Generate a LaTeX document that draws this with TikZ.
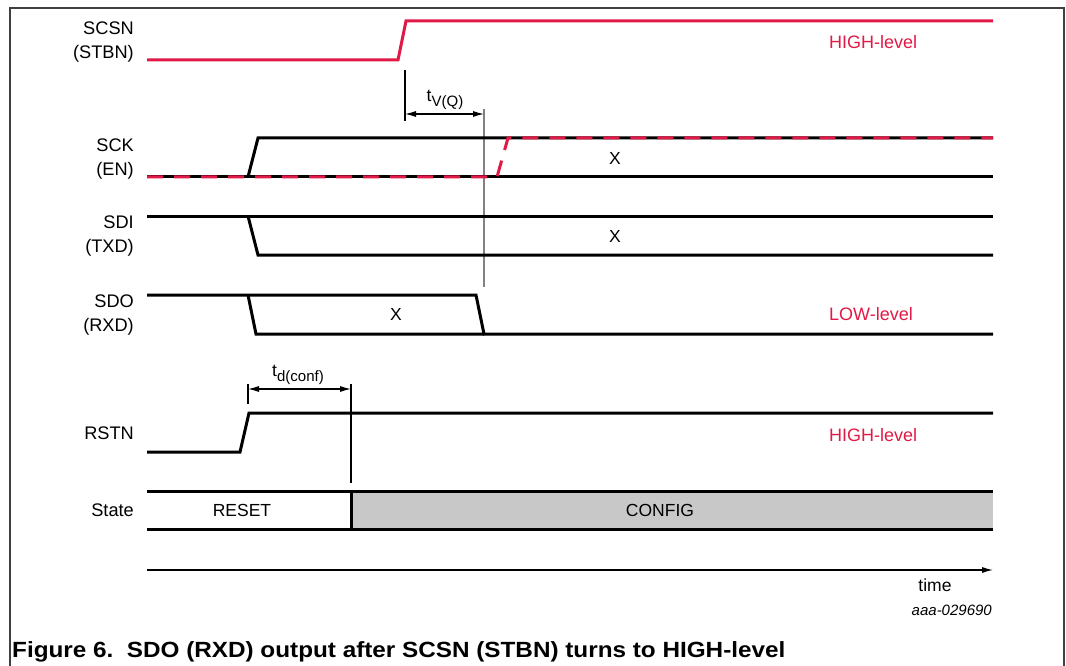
\documentclass[tikz,border=0pt]{standalone}
\usepackage{fontspec}
\setmainfont{Liberation Sans}
\usetikzlibrary{arrows.meta}
\definecolor{nxpred}{RGB}{225,25,70}
\definecolor{framegray}{RGB}{64,64,64}
\definecolor{stategray}{RGB}{200,200,200}
\definecolor{markgray}{RGB}{130,130,130}
\tikzset{
  sig/.style={line width=3pt, black},
  redsig/.style={line width=3pt, nxpred},
  reddash/.style={line width=3pt, nxpred, dash pattern=on 16pt off 11pt},
  thin/.style={line width=1.1pt, black},
  dimarrow/.style={line width=1.1pt, black, {Latex[length=11pt,width=6pt]}-{Latex[length=11pt,width=6pt]}},
  lab/.style={font=\fontsize{18.2}{24.5}\selectfont, align=right, anchor=east, inner sep=0pt},
  txt/.style={font=\fontsize{17.5}{21}\selectfont, inner sep=0pt},
  redtxt/.style={font=\fontsize{18}{21}\selectfont, text=nxpred, anchor=west, inner sep=0pt},
}
\begin{document}
\begin{tikzpicture}[x=1pt,y=-1pt]
\useasboundingbox (0,0) rectangle (1066,666);
% frame
\draw[framegray, line width=1.5pt] (10,667) -- (10,8) -- (1064,8) -- (1064,667);

% labels
\node[lab] (lscsn) at (134,42) {SCSN\\(STBN)};
\node[lab] (lsck) at (134,159) {SCK\\(EN)};
\node[lab] (lsdi) at (134,236) {SDI\\(TXD)};
\node[lab] (lsdo) at (134,315) {SDO\\(RXD)};
\node[lab] (lrstn) at (134,433) {RSTN};
\node[lab] (lstate) at (134,510) {State};

% SCSN
\draw[redsig, line join=miter] (147,60) -- (398,60) -- (406,21) -- (993,21);
\node[redtxt] (hl1) at (829,42) {HIGH-level};

% t_v(Q)
\coordinate (tvA) at (405,114);
\coordinate (tvB) at (484,114);
\draw[thin] (405,70) -- (405,121);
\draw[markgray, line width=1.5pt] (484,109) -- (484,287);
\draw[dimarrow] (tvA) -- (tvB);
\node[txt] (tvl) at (445,100) {t\raisebox{-5pt}{\fontsize{15}{15}\selectfont V(Q)}};

% SCK
\draw[sig] (147,177) -- (993,177);
\draw[sig] (248,177) -- (258,138) -- (993,138);
\draw[reddash] (147,177) -- (497,177) -- (508,138) -- (993,138);
\node[txt] (xsck) at (615,158) {X};

% SDI
\draw[sig] (147,216) -- (993,216);
\draw[sig] (248,216) -- (258,255) -- (993,255);
\node[txt] (xsdi) at (615,236) {X};

% SDO
\draw[sig] (147,295) -- (476,295) -- (484,334) -- (993,334);
\draw[sig] (248,295) -- (256,334) -- (484,334);
\node[txt] (xsdo) at (396,314) {X};
\node[redtxt] (ll) at (829,314) {LOW-level};

% t_d(conf)
\coordinate (tdA) at (248,389);
\coordinate (tdB) at (351,389);
\draw[thin] (248,384) -- (248,404);
\draw[thin] (351,384) -- (351,483);
\draw[dimarrow] (tdA) -- (tdB);
\node[txt] (tdl) at (298,375) {t\raisebox{-5pt}{\fontsize{15}{15}\selectfont d(conf)}};

% RSTN
\draw[sig] (147,452) -- (240,452) -- (249,413) -- (993,413);
\node[redtxt] (hl2) at (829,435) {HIGH-level};

% State
\fill[stategray] (351,491) rectangle (993,529);
\draw[sig] (147,491) -- (993,491);
\draw[sig] (147,529) -- (993,529);
\draw[sig] (351,491) -- (351,529);
\node[txt] (reset) at (242,510) {RESET};
\node[txt] (config) at (660,510) {CONFIG};

% time axis
\coordinate (t0) at (147,570);
\coordinate (t1) at (993,570);
\draw[line width=1.2pt, -{Latex[length=11pt,width=6pt]}] (t0) -- (t1);
\node[txt] (time) at (935,585) {time};
\node[font=\fontsize{15}{18}\selectfont\itshape, anchor=east, inner sep=0pt] (code) at (992,610) {aaa-029690};

% caption
\node[font=\fontsize{22}{26}\selectfont\bfseries, anchor=west, inner sep=0pt] (cap) at (12,652) {\scalebox{1.104}[1]{Figure 6.\ \ SDO (RXD) output after SCSN (STBN) turns to HIGH-level}};
\end{tikzpicture}
\end{document}
